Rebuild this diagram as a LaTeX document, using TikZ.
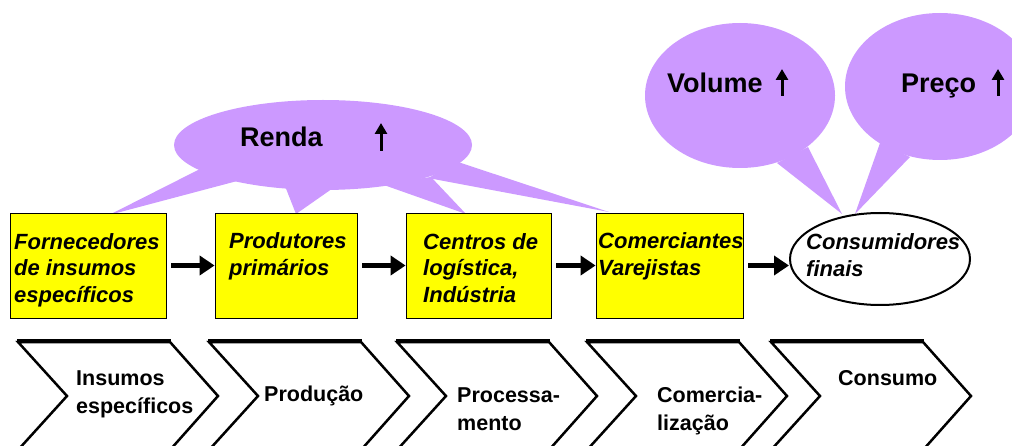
\documentclass[tikz,border=0pt]{standalone}
\usepackage{fontspec}
\setmainfont{Liberation Sans}
\usetikzlibrary{arrows.meta,shapes.geometric}
\definecolor{lilas}{RGB}{204,153,255}
\definecolor{amarelo}{RGB}{255,255,0}
% #5 = linha de base da ultima linha do texto
\newcommand{\caixa}[6]{%
 \node[elo, minimum width=#3pt] (#1) at (#2+#3/2,265.5) {};%
 \node[rotulo] (#1t) at (#2+#4,#5) {#6};%
}
\newcommand{\fase}[5]{%
 \draw[contorno] (#2,342) -- (#2+152,342) -- (#2+200,396) -- (#2+152,450) -- (#2,450) -- (#2+49,396) -- cycle;%
 \draw[line width=4pt] (#2-1,341) -- (#2+153,341);%
 \node[faserot] (#1) at (#2+#3,#4) {#5};%
}

\begin{document}
\begin{tikzpicture}[x=1pt,y=-1pt,
  elo/.style={draw, fill=amarelo, line width=0.8pt, minimum height=105pt, inner sep=0pt},
  rotulo/.style={anchor=base west, inner sep=0pt, align=left, font=\fontsize{22}{27}\selectfont\bfseries\itshape},
  faserot/.style={anchor=base west, inner sep=0pt, align=left, font=\fontsize{21.5}{28}\selectfont\bfseries},
  contorno/.style={line width=2.5pt, line join=miter},
  bolha/.style={ellipse, fill=lilas, inner sep=0pt},
  baltexto/.style={anchor=base west, inner sep=0pt, font=\fontsize{27}{32}\selectfont\bfseries},
  fluxo/.style={line width=5.5pt, shorten <=5pt, -{Triangle[length=15pt,width=19pt]}},
  sobe/.style={line width=3pt, -{Triangle[length=11pt,width=12pt]}}]
  \useasboundingbox (0,0) rectangle (1012,446);
  \clip (0,0) rectangle (1012,446);
  % baloes
  \node[bolha, minimum width=298pt, minimum height=90pt] (renda) at (323,145) {};
  \fill[lilas] (202,168) -- (109,215) -- (241,180) -- cycle;
  \fill[lilas] (285,186) -- (296,214) -- (336,186) -- cycle;
  \fill[lilas] (381,184) -- (466,214) -- (431,177) -- cycle;
  \fill[lilas] (428,178) -- (609,212) -- (458,162) -- cycle;
  \node[bolha, minimum width=190pt, minimum height=145pt] (vol) at (740,95.5) {};
  \fill[lilas] (777,163) -- (842,214) -- (808,147) -- cycle;
  \node[bolha, minimum width=190pt, minimum height=147pt] (preco) at (940,86.5) {};
  \fill[lilas] (880,143) -- (855,214) -- (910,157) -- cycle;
  \node[baltexto] (rendat) at (240,147) {Renda};
  \node[baltexto] (volt) at (667,93) {Volume};
  \node[baltexto] (precot) at (901,93) {Preço};
  \coordinate (s1a) at (381,151); \coordinate (s1b) at (381,123);
  \coordinate (s2a) at (782,96); \coordinate (s2b) at (782,69);
  \coordinate (s3a) at (998,96); \coordinate (s3b) at (998,69);
  \draw[sobe] (s1a) -- (s1b);
  \draw[sobe] (s2a) -- (s2b);
  \draw[sobe] (s3a) -- (s3b);
  % elos da cadeia
  \caixa{f1}{10}{156}{4}{303}{Fornecedores\\de insumos\\específicos}
  \caixa{f2}{215}{142}{14}{276}{Produtores\\primários}
  \caixa{f3}{406}{145}{17}{303}{Centros de\\logística,\\Indústria}
  \caixa{f4}{596}{147}{2}{276}{Comerciantes\\Varejistas}
  \node[ellipse, draw, line width=2pt, minimum width=180pt, minimum height=92pt] (cons) at (880,259) {};
  \node[rotulo] (const) at (806,277) {Consumidores\\finais};
  \draw[fluxo] (f1) -- (f2);
  \draw[fluxo] (f2) -- (f3);
  \draw[fluxo] (f3) -- (f4);
  \draw[fluxo] (f4) -- (f4 -| cons.west);
  % etapas
  \fase{p1}{18}{58}{413}{Insumos\\específicos}
  \fase{p2}{209}{55}{401}{Produção}
  \fase{p3}{397}{60}{430}{Processa-\\mento}
  \fase{p4}{587}{70}{430}{Comercia-\\lização}
  \fase{p5}{771}{67}{385}{Consumo}
\end{tikzpicture}
\end{document}
